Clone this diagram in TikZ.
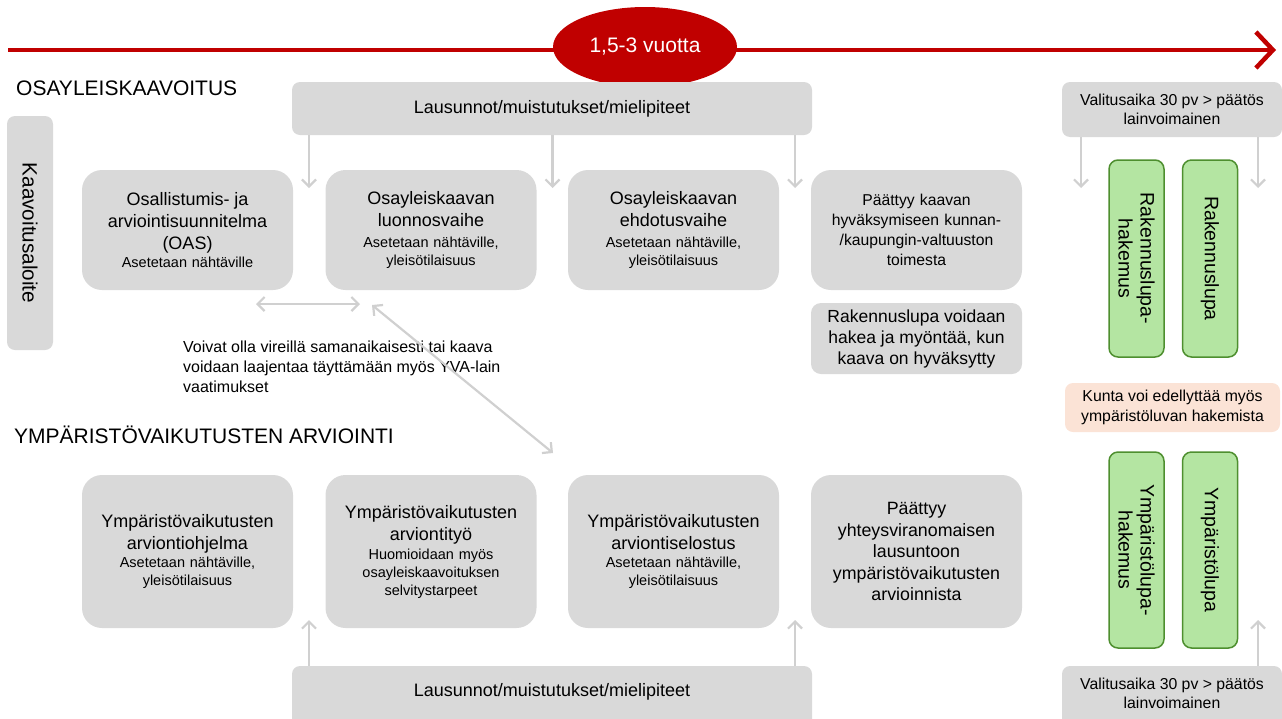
\documentclass[tikz,border=0pt]{standalone}
\usepackage{fontspec}
\setmainfont{Liberation Sans}
\usetikzlibrary{arrows.meta,shapes.geometric}
\definecolor{boxgray}{HTML}{D9D9D9}
\definecolor{arrgray}{HTML}{D0D0D0}
\definecolor{redline}{HTML}{C00000}
\definecolor{greenfill}{HTML}{B4E5A2}
\definecolor{greenline}{HTML}{4E8F2F}
\definecolor{peach}{HTML}{FBE3D6}
\newcommand{\bigf}{\fontsize{18}{22}\selectfont}
\newcommand{\smallf}{\fontsize{14.5}{18}\selectfont}
\begin{document}
\begin{tikzpicture}[x=1pt,y=-1pt,
  stage/.style={fill=boxgray, rounded corners=20pt, minimum width=211pt, align=center, inner sep=0pt, text width=205pt, font=\smallf},
  flat/.style={fill=boxgray, rounded corners=8pt, align=center, inner sep=0pt},
  greenbox/.style={fill=greenfill, draw=greenline, line width=1.5pt, rounded corners=9pt, minimum width=197pt, minimum height=55pt, inner sep=0pt, align=center, rotate=-90, font=\fontsize{19.5}{22}\selectfont},
  garrow/.style={draw=arrgray, line width=2.2pt, -{Straight Barb[length=7pt,width=14pt]}},
  gdarrow/.style={draw=arrgray, line width=2.2pt, {Straight Barb[length=7pt,width=14pt]}-{Straight Barb[length=7pt,width=14pt]}},
  title/.style={anchor=west, inner sep=0pt, font=\fontsize{21}{24}\selectfont}
]
\useasboundingbox (0,0) rectangle (1282,718);

% timeline
\coordinate (tl0) at (8,50);
\coordinate (tl1) at (1276,50);
\draw[redline, line width=4.5pt, -{Straight Barb[length=17pt,width=36pt]}] (tl0) -- (tl1);
\node[ellipse, fill=redline, minimum width=184pt, minimum height=80pt, inner sep=0pt, text=white, font=\fontsize{21}{24}\selectfont] (dur) at (645,47) {1,5-3 vuotta};

% titles
\node[title] (t1) at (16,88) {OSAYLEISKAAVOITUS};
\node[title] (t2) at (14,435) {YMPÄRISTÖVAIKUTUSTEN ARVIOINTI};

% left start
\node[fill=boxgray, rounded corners=8pt, minimum width=234pt, minimum height=46pt, rotate=-90, inner sep=0pt, font=\fontsize{20.7}{24}\selectfont] (alo) at (30,233) {Kaavoitusaloite};

% top comments box
\node[flat, minimum width=520pt, minimum height=53pt, font=\bigf] (lt) at (552,108.5) {Lausunnot/muistutukset/mielipiteet};

% row 1
\node[stage, minimum height=120pt] (a1) at (187.5,230) {{\bigf Osallistumis- ja\\ arviointisuunnitelma\\ (OAS)\par}Asetetaan nähtäville};
\node[stage, minimum height=120pt] (a2) at (431,230) {{\bigf Osayleiskaavan\\ luonnosvaihe\par}\vspace{3pt}Asetetaan nähtäville,\\ yleisötilaisuus};
\node[stage, minimum height=120pt] (a3) at (673.5,230) {{\bigf Osayleiskaavan\\ ehdotusvaihe\par}\vspace{3pt}Asetetaan nähtäville,\\ yleisötilaisuus};
\node[stage, minimum height=120pt, font=\fontsize{15.7}{20}\selectfont] (a4) at (916.5,230) {Päättyy kaavan\\ hyväksymiseen kunnan-\\ /kaupungin-valtuuston\\ toimesta};
\node[flat, rounded corners=10pt, minimum width=211pt, minimum height=71pt, font=\fontsize{17.5}{21}\selectfont] (rv) at (916.5,338.5) {Rakennuslupa voidaan\\ hakea ja myöntää, kun\\ kaava on hyväksytty};

% note text
\node[anchor=west, align=left, inner sep=0pt, font=\fontsize{16}{20}\selectfont] (note) at (183,367) {Voivat olla vireillä samanaikaisesti tai kaava\\ voidaan laajentaa täyttämään myös YVA-lain\\ vaatimukset};

% row 2
\node[stage, minimum height=153pt] (b1) at (187.5,551.5) {{\bigf Ympäristövaikutusten\\ arviontiohjelma\par}Asetetaan nähtäville,\\ yleisötilaisuus};
\node[stage, minimum height=153pt] (b2) at (431,551.5) {{\bigf Ympäristövaikutusten\\ arviontityö\par}\vspace{1pt}Huomioidaan myös\\ osayleiskaavoituksen\\ selvitystarpeet};
\node[stage, minimum height=153pt] (b3) at (673.5,551.5) {{\bigf Ympäristövaikutusten\\ arviontiselostus\par}Asetetaan nähtäville,\\ yleisötilaisuus};
\node[stage, minimum height=153pt, font=\fontsize{17.8}{21.5}\selectfont] (b4) at (916.5,551.5) {Päättyy\\ yhteysviranomaisen\\ lausuntoon\\ ympäristövaikutusten\\ arvioinnista};

% bottom comments box
\node[flat, minimum width=520pt, minimum height=80pt] (lb) at (552,706) {};
\node[inner sep=0pt, font=\bigf] (lbt) at (552,692) {Lausunnot/muistutukset/mielipiteet};

% right column
\node[flat, minimum width=220pt, minimum height=55pt, font=\fontsize{15.8}{19.5}\selectfont] (v1) at (1172,109.5) {Valitusaika 30 pv > päätös\\ lainvoimainen};
\node[greenbox] (g1) at (1136.5,258.5) {Rakennuslupa-\\ hakemus};
\node[greenbox] (g2) at (1210,258.5) {Rakennuslupa};
\node[fill=peach, rounded corners=8pt, minimum width=215pt, minimum height=49pt, inner sep=0pt, align=center, font=\fontsize{15.8}{19.5}\selectfont] (ku) at (1172.5,407.5) {Kunta voi edellyttää myös\\ ympäristöluvan hakemista};
\node[greenbox, minimum width=196pt] (g3) at (1136.5,550) {Ympäristölupa-\\ hakemus};
\node[greenbox, minimum width=196pt] (g4) at (1210,550) {Ympäristölupa};
\node[flat, minimum width=220pt, minimum height=70pt] (v2) at (1172,701) {};
\node[inner sep=0pt, align=center, font=\fontsize{15.8}{19.5}\selectfont] (v2t) at (1172,693.5) {Valitusaika 30 pv > päätös\\ lainvoimainen};

% arrow end points
\coordinate (d1) at (309,188);
\coordinate (d2) at (552.5,188);
\coordinate (d3) at (795,188);
\coordinate (d4) at (1081,188);
\coordinate (d5) at (1258,188);
\coordinate (u1) at (309,620);
\coordinate (u2) at (795,620);
\coordinate (u3) at (1258,620);
\coordinate (h1) at (256,304);
\coordinate (h2) at (360,304);
\coordinate (s1) at (372,305);
\coordinate (s2) at (553,453);

\draw[garrow] (lt.south -| d1) -- (d1);
\draw[garrow] (lt.south -| d2) -- (d2);
\draw[garrow] (lt.south -| d3) -- (d3);
\draw[garrow] (v1.south -| d4) -- (d4);
\draw[garrow] (v1.south -| d5) -- (d5);
\draw[garrow] (lb.north -| u1) -- (u1);
\draw[garrow] (lb.north -| u2) -- (u2);
\draw[garrow] (v2.north -| u3) -- (u3);
\draw[gdarrow] (h1) -- (h2);
\draw[gdarrow] (s1) -- (s2);
\end{tikzpicture}
\end{document}
